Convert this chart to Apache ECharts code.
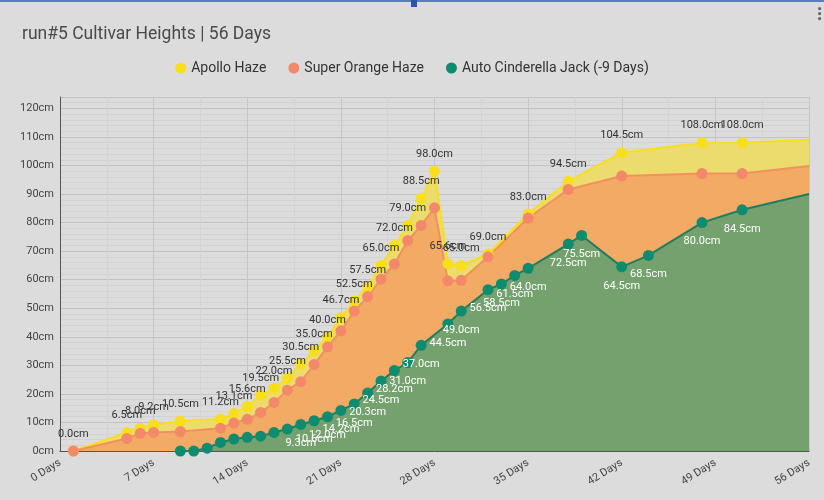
<!DOCTYPE html>
<html>
<head>
<meta charset="utf-8">
<script src="https://cdn.jsdelivr.net/npm/echarts@6/dist/echarts.min.js"></script>
<style>
  html, body { margin: 0; padding: 0; background: #dcdcdc; }
  #chart { width: 824px; height: 500px; }
</style>
</head>
<body>
<div id="chart"></div>
<script>
// days for Apollo Haze / Super Orange Haze (last point is where the line runs off the axis)
var mainDays = [1, 5, 6, 7, 9, 12, 13, 14, 15, 16, 17, 18, 19, 20, 21, 22, 23, 24, 25, 26, 27, 28, 29, 30, 32, 35, 38, 42, 48, 51, 56];
var apolloHaze = [0.0, 6.5, 8.0, 9.2, 10.5, 11.2, 13.1, 15.6, 19.5, 22.0, 25.5, 30.5, 35.0, 40.0, 46.7, 52.5, 57.5, 65.0, 72.0, 79.0, 88.5, 98.0, 65.6, 65.0, 69.0, 83.0, 94.5, 104.5, 108.0, 108.0, 109.0];
var superOrangeHaze = [0.0, 4.4, 6.2, 6.5, 6.8, 8.0, 9.8, 11.1, 13.5, 17.0, 21.3, 24.3, 30.3, 36.5, 42.1, 49.0, 54.1, 60.2, 65.5, 73.7, 79.0, 85.2, 59.6, 59.8, 68.0, 81.6, 91.6, 96.3, 97.2, 97.2, 99.8];
// Auto Cinderella Jack (-9 Days)
var jackDays = [9, 10, 11, 12, 13, 14, 15, 16, 17, 18, 19, 20, 21, 22, 23, 24, 25, 26, 27, 29, 30, 32, 33, 34, 35, 38, 39, 42, 44, 48, 51, 56];
var autoCinderella = [0.0, 0.0, 1.0, 3.0, 4.2, 4.8, 5.2, 6.5, 7.7, 9.3, 10.6, 12.0, 14.2, 16.5, 20.3, 24.5, 28.2, 31.0, 37.0, 44.5, 49.0, 56.5, 58.5, 61.5, 64.0, 72.5, 75.5, 64.5, 68.5, 80.0, 84.5, 90.0];

var dayTicks = [0, 7, 14, 21, 28, 35, 42, 49, 56];

function buildData(days, vals, minLabel) {
    var out = [];
    for (var i = 0; i < days.length; i++) {
        var item = { value: [days[i], vals[i]] };
        if (i == days.length - 1) {
            // line just continues to the edge, no dot there
            item.symbol = 'none';
            item.label = { show: false };
        } else if (vals[i] < minLabel) {
            item.label = { show: false };
        }
        out.push(item);
    }
    return out;
}

var myChart = echarts.init(document.getElementById('chart'));
var option = {
    animation: false,
    backgroundColor: '#dcdcdc',
    title: {
        text: 'run#5 Cultivar Heights | 56 Days',
        left: 17,
        top: 21,
        textStyle: {
            fontFamily: 'Roboto',
            fontWeight: 'normal',
            fontSize: 17.5,
            color: '#4a4a4a'
        }
    },
    legend: {
        top: 56,
        left: 'center',
        icon: 'circle',
        itemWidth: 11,
        itemHeight: 11,
        itemGap: 22,
        textStyle: {
            fontFamily: 'Roboto',
            fontSize: 14,
            color: '#333'
        },
        data: ['Apollo Haze', 'Super Orange Haze', 'Auto Cinderella Jack (-9 Days)']
    },
    grid: {
        left: 60,
        right: 15,
        top: 97,
        bottom: 49
    },
    xAxis: {
        type: 'value',
        min: 0,
        max: 56,
        interval: 7,
        axisLine: { show: true, lineStyle: { color: '#555' } },
        axisTick: { show: false },
        axisLabel: {
            rotate: 32,
            fontFamily: 'Roboto',
            fontSize: 11,
            color: '#444',
            margin: 11,
            formatter: function (v) {
                return dayTicks.indexOf(v) >= 0 ? v + ' Days' : '';
            }
        },
        splitLine: { show: true, lineStyle: { color: '#c6c6c6' } },
        minorTick: { show: false, splitNumber: 2 },
        minorSplitLine: { show: true, lineStyle: { color: '#d3d3d3' } }
    },
    yAxis: {
        type: 'value',
        min: 0,
        max: 124,
        interval: 10,
        axisLine: { show: true, lineStyle: { color: '#555' } },
        axisTick: { show: false },
        axisLabel: {
            showMaxLabel: false,
            fontFamily: 'Roboto',
            fontSize: 11,
            color: '#444',
            margin: 6,
            formatter: '{value}cm'
        },
        splitLine: { show: true, lineStyle: { color: '#c2c2c2' } },
        minorTick: { show: false, splitNumber: 5 },
        minorSplitLine: { show: true, lineStyle: { color: '#d2d2d2' } }
    },
    series: [
        {
            name: 'Apollo Haze',
            type: 'line',
            symbol: 'circle',
            symbolSize: 11,
            itemStyle: { color: '#f7df1c' },
            lineStyle: { width: 2, color: '#f7df1c' },
            areaStyle: { color: '#ecdc6e', opacity: 1 },
            label: {
                show: true,
                position: 'top',
                distance: 6,
                fontFamily: 'Roboto',
                fontSize: 11,
                color: '#333',
                formatter: function (p) { return p.value[1].toFixed(1) + 'cm'; }
            },
            data: buildData(mainDays, apolloHaze, -1)
        },
        {
            name: 'Super Orange Haze',
            type: 'line',
            symbol: 'circle',
            symbolSize: 11,
            itemStyle: { color: '#f4886a' },
            lineStyle: { width: 2, color: '#f3915e' },
            areaStyle: { color: '#f2aa64', opacity: 1 },
            data: buildData(mainDays, superOrangeHaze, 9999)
        },
        {
            name: 'Auto Cinderella Jack (-9 Days)',
            type: 'line',
            symbol: 'circle',
            symbolSize: 11,
            itemStyle: { color: '#0f8b70' },
            lineStyle: { width: 2, color: '#1f7e5e' },
            areaStyle: { color: '#75a16e', opacity: 1 },
            label: {
                show: true,
                position: 'bottom',
                distance: 8,
                fontFamily: 'Roboto',
                fontSize: 11,
                color: '#fff',
                formatter: function (p) { return p.value[1].toFixed(1) + 'cm'; }
            },
            data: buildData(jackDays, autoCinderella, 9)
        }
    ],
    graphic: [
        { type: 'rect', left: 0, top: 0, shape: { width: 824, height: 2 }, style: { fill: '#5a7cc4' } },
        { type: 'rect', left: 411, top: 0, shape: { width: 6, height: 7 }, style: { fill: '#2d55a8' } },
        { type: 'circle', left: 818, top: 7, shape: { r: 1.6 }, style: { fill: '#666' } },
        { type: 'circle', left: 818, top: 12, shape: { r: 1.6 }, style: { fill: '#666' } },
        { type: 'circle', left: 818, top: 17, shape: { r: 1.6 }, style: { fill: '#666' } }
    ]
};
myChart.setOption(option);
</script>
</body>
</html>
